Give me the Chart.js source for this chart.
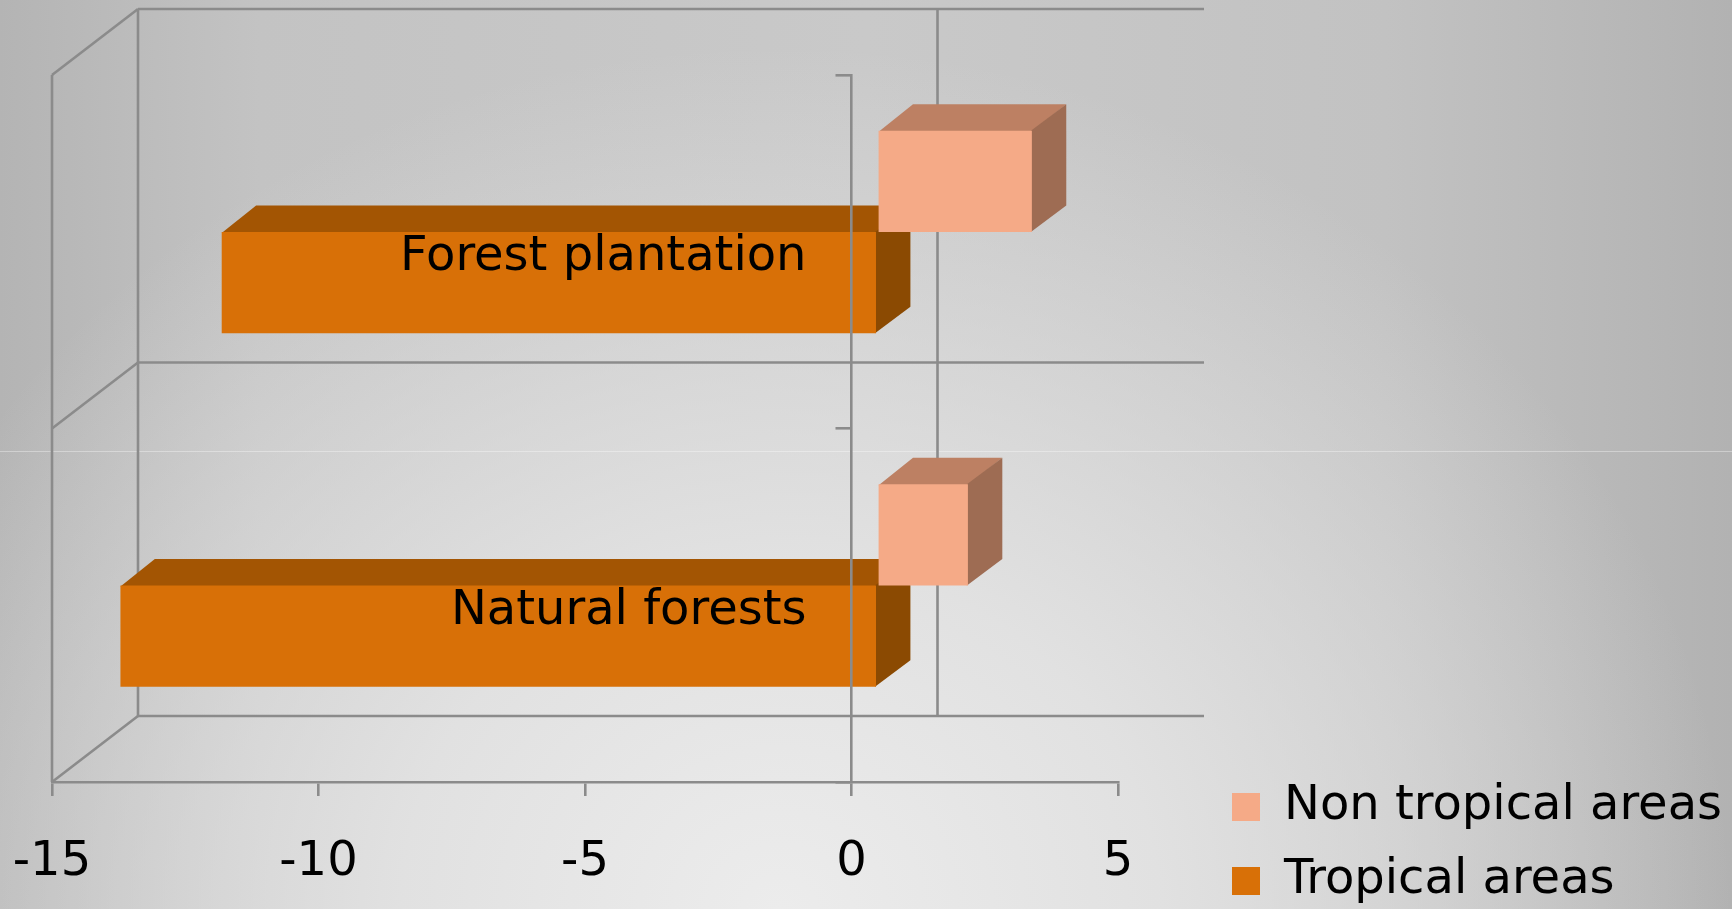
<!DOCTYPE html>
<html>
<head>
<meta charset="utf-8">
<script src="https://cdn.jsdelivr.net/npm/chart.js@4.4.1/dist/chart.umd.min.js"></script>
<style>
  html, body { margin: 0; padding: 0; }
  body {
    width: 1732px; height: 909px; overflow: hidden; position: relative;
    background:
      radial-gradient(ellipse 55% 95% at 45% 100%, rgba(236,236,236,1) 0%, rgba(228,228,228,0.9) 40%, rgba(214,214,214,0) 100%),
      linear-gradient(to right, #b4b4b4 0%, #c3c3c3 15%, #c9c9c9 50%, #c2c2c2 80%, #b2b2b2 100%);
  }
  #seam { position: absolute; left: 0; top: 451px; width: 1732px; height: 1px; background: rgba(255,255,255,0.35); }
  #chart { position: absolute; left: 0; top: 0; }
</style>
</head>
<body>
<div id="seam"></div>
<canvas id="chart" width="1732" height="909"></canvas>
<script>
// Change in forest area by forest type
const categories = ['Forest plantation', 'Natural forests'];
const seriesNames = ['Non tropical areas', 'Tropical areas'];
const nonTropicalValues = [2.9, 1.7];
const tropicalValues = [-12.3, -14.2];
const xMin = -15;
const xMax = 5;
const xStep = 5;

const FONT = "'DejaVu Sans', Verdana, sans-serif";
const FONT_SIZE = 48;
const LINE = '#8b8b8b';
// front / top / side shading of the bar prisms, one entry per series
const FACES = [
  { front: '#f5aa87', top: '#bd8063', side: '#9e6c53' },
  { front: '#d87007', top: '#a35503', side: '#8b4a02' }
];
const WALL = { x: 86, y: -66 };          // depth vector of the plot box
const BAR_FRONT = 0.30, BAR_BACK = 0.70; // bar depth as fractions of the box depth
const LEGEND_X = 1232, LEGEND_BOTTOM = 931;

Chart.defaults.font.family = FONT;

function poly(ctx, pts) {
  ctx.beginPath();
  ctx.moveTo(pts[0][0], pts[0][1]);
  for (let i = 1; i < pts.length; i++) ctx.lineTo(pts[i][0], pts[i][1]);
  ctx.closePath();
  ctx.fill();
}

const box3d = {
  id: 'box3d',
  afterLayout(chart) {
    // category axis sits on the zero line of the value axis
    const ys = chart.scales.y, xs = chart.scales.x;
    ys.left = 0;
    ys.right = xs.getPixelForValue(0);
    ys.width = ys.right - ys.left;
    // legend block in the lower right corner
    const lg = chart.legend;
    if (lg) {
      const pad = lg.options.labels.padding;
      const h = lg.height;
      lg.left = LEGEND_X - pad;
      lg.right = chart.width;
      lg.width = lg.right - lg.left;
      lg.bottom = LEGEND_BOTTOM;
      lg.top = lg.bottom - h;
    }
  },
  beforeDatasetsDraw(chart) {
    const { ctx, scales: { x, y } } = chart;
    const n = categories.length;
    const seg = (x1, y1, x2, y2) => { ctx.beginPath(); ctx.moveTo(x1, y1); ctx.lineTo(x2, y2); ctx.stroke(); };
    const L = x.getPixelForValue(xMin), R = x.getPixelForValue(xMax), X0 = x.getPixelForValue(0);
    const T = y.getPixelForValue(-0.5), B = y.getPixelForValue(n - 0.5);
    ctx.save();
    ctx.strokeStyle = LINE;
    ctx.lineWidth = 2.6;
    for (let i = 0; i <= n; i++) {
      const b = y.getPixelForValue(i - 0.5);
      seg(L + WALL.x, b + WALL.y, R + WALL.x, b + WALL.y);
      seg(L, b, L + WALL.x, b + WALL.y);
    }
    seg(L, T, L, B);
    seg(L + WALL.x, T + WALL.y, L + WALL.x, B + WALL.y);
    seg(X0 + WALL.x, T + WALL.y, X0 + WALL.x, B + WALL.y);
    ctx.restore();
  },
  beforeDatasetDraw(chart, args) {
    const ctx = chart.ctx;
    const f = FACES[args.index];
    const dx = WALL.x * (BAR_BACK - BAR_FRONT), dy = WALL.y * (BAR_BACK - BAR_FRONT);
    ctx.save();
    ctx.translate(WALL.x * BAR_FRONT, WALL.y * BAR_FRONT);
    args.meta.data.forEach(bar => {
      const { x, y, base, height } = bar.getProps(['x', 'y', 'base', 'height'], true);
      const l = Math.min(x, base), r = Math.max(x, base);
      const t = y - height / 2, b = y + height / 2;
      ctx.fillStyle = f.top;
      poly(ctx, [[l, t + 1], [r, t + 1], [r + dx, t + dy], [l + dx, t + dy]]);
      ctx.fillStyle = f.side;
      poly(ctx, [[r - 1, t], [r + dx, t + dy], [r + dx, b + dy], [r - 1, b]]);
    });
  },
  afterDatasetDraw(chart) {
    chart.ctx.restore();
  }
};

new Chart(document.getElementById('chart'), {
  type: 'bar',
  data: {
    labels: categories,
    datasets: [
      { label: seriesNames[0], data: nonTropicalValues, backgroundColor: FACES[0].front },
      { label: seriesNames[1], data: tropicalValues, backgroundColor: FACES[1].front }
    ]
  },
  options: {
    indexAxis: 'y',
    responsive: false,
    animation: false,
    events: [],
    layout: { padding: { top: 75, left: 52, right: 514, bottom: 0 } },
    datasets: {
      bar: { borderWidth: 0, barPercentage: 1, categoryPercentage: 0.573, clip: false }
    },
    scales: {
      x: {
        type: 'linear', min: xMin, max: xMax,
        ticks: { stepSize: xStep, color: '#000', font: { size: FONT_SIZE }, padding: 38 },
        grid: { drawOnChartArea: false, drawTicks: true, tickLength: 14, color: LINE, lineWidth: 2.6 },
        border: { display: true, color: LINE, width: 2.6 },
        afterFit(s) { s.height = 127; s.paddingLeft = 0; s.paddingRight = 0; }
      },
      y: {
        type: 'category',
        position: 'left',
        ticks: { color: '#000', font: { size: FONT_SIZE }, padding: 29, labelOffset: 6, z: 1 },
        grid: { drawOnChartArea: false, offset: true, tickLength: 16, color: LINE, lineWidth: 2.6 },
        border: { display: true, color: LINE, width: 2.6, z: 1 },
        afterFit(s) { s.width = 0; s.paddingTop = 0; s.paddingBottom = 0; }
      }
    },
    plugins: {
      tooltip: { enabled: false },
      legend: {
        position: 'right', align: 'end', maxWidth: 100,
        labels: { boxWidth: 28, boxHeight: 28, padding: 26, color: '#000', font: { size: FONT_SIZE } }
      }
    }
  },
  plugins: [box3d]
});
</script>
</body>
</html>
